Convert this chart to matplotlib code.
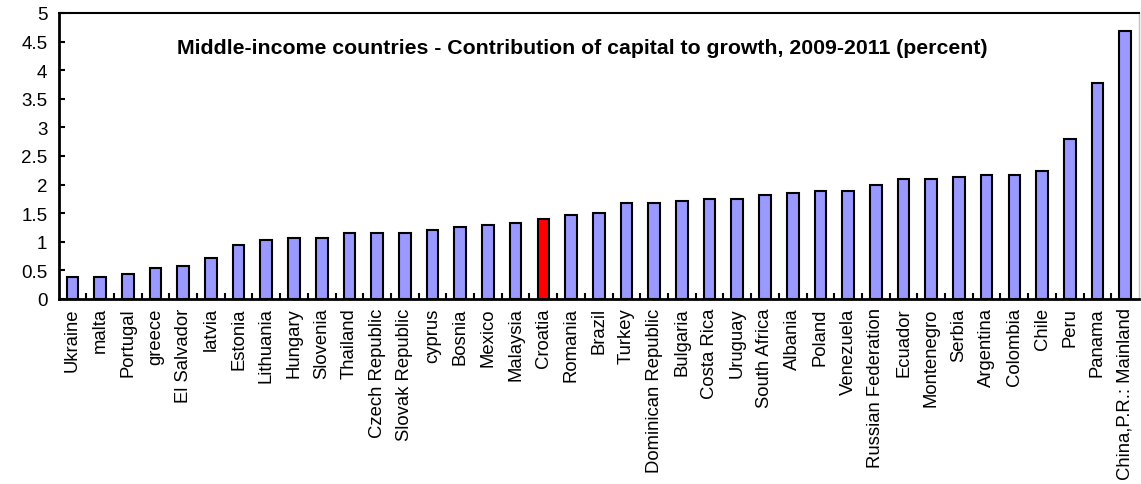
import matplotlib
matplotlib.use("Agg")
import matplotlib.pyplot as plt
from matplotlib.ticker import MultipleLocator, FixedLocator

plt.rcParams['font.family'] = ['Liberation Sans', 'DejaVu Sans']

countries = ["Ukraine", "malta", "Portugal", "greece", "El Salvador", "latvia", "Estonia",
             "Lithuania", "Hungary", "Slovenia", "Thailand", "Czech Republic", "Slovak Republic",
             "cyprus", "Bosnia", "Mexico", "Malaysia", "Croatia", "Romania", "Brazil", "Turkey",
             "Dominican Republic", "Bulgaria", "Costa Rica", "Uruguay", "South Africa", "Albania",
             "Poland", "Venezuela", "Russian Federation", "Ecuador", "Montenegro", "Serbia",
             "Argentina", "Colombia", "Chile", "Peru", "Panama", "China,P.R.: Mainland"]
values = [0.39, 0.39, 0.43, 0.54, 0.57, 0.71, 0.95, 1.03, 1.06, 1.06, 1.16, 1.16, 1.16,
          1.20, 1.26, 1.30, 1.33, 1.40, 1.47, 1.51, 1.68, 1.68, 1.72, 1.75, 1.75, 1.82, 1.86,
          1.89, 1.89, 2.00, 2.10, 2.10, 2.14, 2.17, 2.17, 2.24, 2.80, 3.78, 4.69]
highlight = "Croatia"
title = "Middle-income countries - Contribution of capital to growth, 2009-2011 (percent)"

fig = plt.figure(figsize=(11.41, 4.85), dpi=100)
ax = fig.add_axes([58.5/1141, 1-300/485, (1139-58.5)/1141, 286/485])

x = list(range(len(countries)))
colors = ["#FF0000" if c == highlight else "#9999FF" for c in countries]
ax.bar(x, values, width=0.42, color=colors, edgecolor="black", linewidth=1.5, zorder=3)

ax.set_xlim(-0.5, len(countries) - 0.5)
ax.set_ylim(0, 5)
ax.yaxis.set_major_locator(MultipleLocator(0.5))
ax.set_yticklabels([f"{v:g}" for v in ax.get_yticks()])

ax.set_xticks(x)
ax.set_xticklabels(countries, rotation=90, fontsize=13.3)
ax.tick_params(axis='x', which='major', length=0, pad=6)
ax.xaxis.set_minor_locator(FixedLocator([i + 0.5 for i in range(len(countries) - 1)]))
ax.tick_params(axis='x', which='minor', direction='in', length=4, width=1.5, color='black')
ax.tick_params(axis='y', direction='in', length=4, width=1.5, labelsize=13.5, pad=8)

for s in ['left', 'bottom', 'top']:
    ax.spines[s].set_color('black')
ax.spines['left'].set_linewidth(2)
ax.spines['bottom'].set_linewidth(2)
ax.spines['top'].set_linewidth(1.5)
ax.spines['right'].set_color('#c0c0c0')
ax.spines['right'].set_linewidth(1)

ax.text(0.4845, 0.878, title, transform=ax.transAxes, ha='center', va='center',
        fontsize=15.3, fontweight='bold')

fig.savefig("out.png", dpi=100)
